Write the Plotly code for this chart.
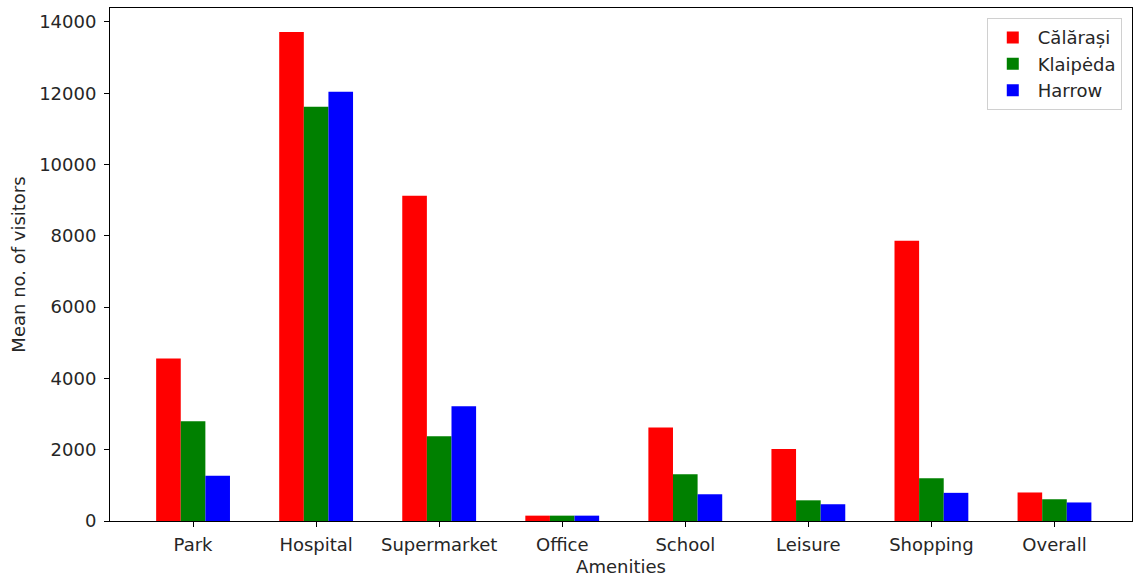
import plotly.graph_objects as go

categories = ["Park", "Hospital", "Supermarket", "Office", "School", "Leisure", "Shopping", "Overall"]
calarasi = [4560, 13720, 9120, 150, 2620, 2020, 7860, 800]
klaipeda = [2800, 11620, 2380, 150, 1310, 580, 1200, 610]
harrow = [1270, 12040, 3220, 150, 750, 470, 790, 520]
yticks = [0, 2000, 4000, 6000, 8000, 10000, 12000, 14000]

series = [("Călărași", calarasi, "red"), ("Klaipėda", klaipeda, "green"), ("Harrow", harrow, "blue")]

fig = go.Figure()
for name, vals, col in series:
    fig.add_trace(go.Bar(x=categories, y=vals, name=name, marker=dict(color=col, line=dict(width=0))))

FS = 18
font = dict(family="DejaVu Sans", size=FS, color="#262626")
fig.update_layout(
    width=1133, height=578,
    margin=dict(l=110, r=1, t=8, b=57),
    plot_bgcolor="white", paper_bgcolor="white",
    barmode="group", bargap=0.4, bargroupgap=0,
    font=font,
    legend=dict(x=0.99, y=0.98, xanchor="right", yanchor="top",
                bordercolor="#d0d0d0", borderwidth=1, bgcolor="white",
                font=dict(family="DejaVu Sans", size=FS, color="#262626"),
                itemwidth=40),
    xaxis=dict(range=[-0.675, 7.63], showline=True, linecolor="black", linewidth=1,
               mirror=True, ticks="outside", ticklen=5, tickcolor="black",
               tickfont=dict(size=FS), ticklabelstandoff=2,
               title=dict(text="Amenities", standoff=6, font=dict(size=FS)), showgrid=False),
    yaxis=dict(range=[0, 14390], showline=True, linecolor="black", linewidth=1,
               mirror=True, ticks="outside", ticklen=5, tickcolor="black",
               tickvals=yticks, tickformat="d", tickfont=dict(size=FS), ticklabelstandoff=4,
               title=dict(text="Mean no. of visitors", standoff=8, font=dict(size=FS)),
               showgrid=False, zeroline=False),
)
fig.write_html("out.html", config={"displayModeBar": False},
               post_script="document.body.style.margin='0';document.body.style.padding='0';")
